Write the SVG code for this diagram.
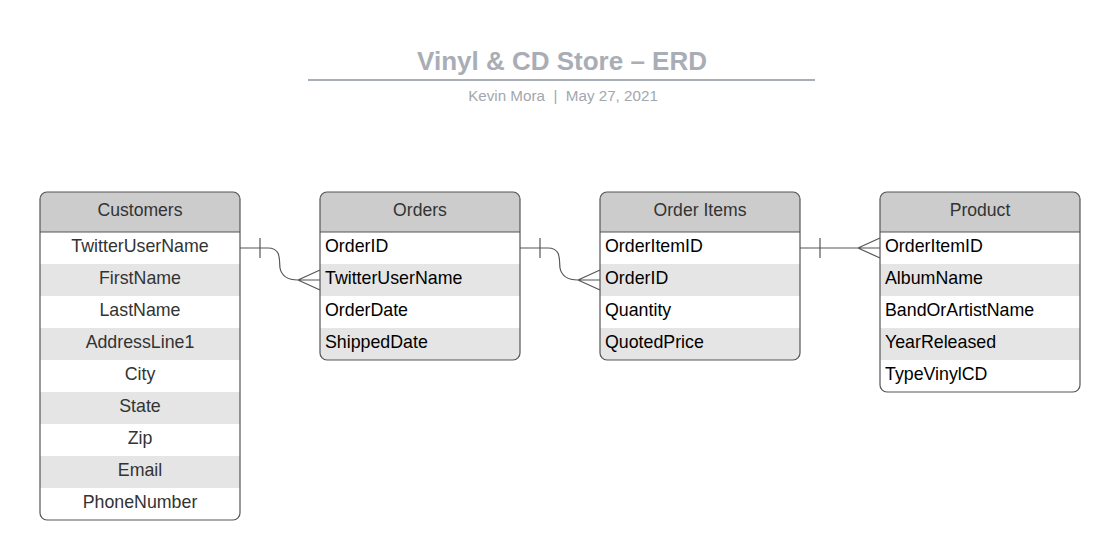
<svg xmlns="http://www.w3.org/2000/svg" width="1120" height="560" viewBox="0 0 1120 560">
<style>
.t{font-family:"Liberation Sans",Arial,sans-serif}
.title{font-size:26px;font-weight:bold;fill:#a9adb5}
.sub{font-size:15.2px;fill:#a3a7ae;white-space:pre}
.hdr{fill:#cccccc}
.alt{fill:#e5e5e5}
.box{fill:none;stroke:#555;stroke-width:1.2}
.sep{stroke:#555;stroke-width:1}
.hl{font-size:17.6px;fill:#333;text-anchor:middle}
.fc{font-size:17.8px;fill:#333;text-anchor:middle}
.fl{font-size:17.8px;fill:#000}
.conn{fill:none;stroke:#555;stroke-width:1.2}
</style>
<rect width="1120" height="560" fill="#fff"/>
<g id="title">
<text class="t title" x="562" y="70" text-anchor="middle">Vinyl &amp; CD Store – ERD</text>
<line x1="308" y1="80" x2="815" y2="80" stroke="#a9aeb8" stroke-width="2"/>
<text class="t sub" x="563" y="101" text-anchor="middle" xml:space="preserve">Kevin Mora  |  May 27, 2021</text>
</g>
<g id="customers">
<clipPath id="c1"><rect x="40" y="192" width="200" height="328" rx="7"/></clipPath>
<g clip-path="url(#c1)">
<rect x="40" y="192" width="200" height="328" fill="#fff"/>
<rect class="hdr" x="40" y="192" width="200" height="40"/>
<rect class="alt" x="40" y="264" width="200" height="32"/>
<rect class="alt" x="40" y="328" width="200" height="32"/>
<rect class="alt" x="40" y="392" width="200" height="32"/>
<rect class="alt" x="40" y="456" width="200" height="32"/>
</g>
<line class="sep" x1="40" y1="232" x2="240" y2="232"/>
<rect class="box" x="40" y="192" width="200" height="328" rx="7"/>
<text class="t hl" x="140" y="216">Customers</text>
<text class="t fc" x="140" y="251.5">TwitterUserName</text>
<text class="t fc" x="140" y="283.5">FirstName</text>
<text class="t fc" x="140" y="315.5">LastName</text>
<text class="t fc" x="140" y="347.5">AddressLine1</text>
<text class="t fc" x="140" y="379.5">City</text>
<text class="t fc" x="140" y="411.5">State</text>
<text class="t fc" x="140" y="443.5">Zip</text>
<text class="t fc" x="140" y="475.5">Email</text>
<text class="t fc" x="140" y="507.5">PhoneNumber</text>
</g>
<g id="orders">
<clipPath id="c2"><rect x="320" y="192" width="200" height="168" rx="7"/></clipPath>
<g clip-path="url(#c2)">
<rect x="320" y="192" width="200" height="168" fill="#fff"/>
<rect class="hdr" x="320" y="192" width="200" height="40"/>
<rect class="alt" x="320" y="264" width="200" height="32"/>
<rect class="alt" x="320" y="328" width="200" height="32"/>
</g>
<line class="sep" x1="320" y1="232" x2="520" y2="232"/>
<rect class="box" x="320" y="192" width="200" height="168" rx="7"/>
<text class="t hl" x="420" y="216">Orders</text>
<text class="t fl" x="325" y="251.5">OrderID</text>
<text class="t fl" x="325" y="283.5">TwitterUserName</text>
<text class="t fl" x="325" y="315.5">OrderDate</text>
<text class="t fl" x="325" y="347.5">ShippedDate</text>
</g>
<g id="order-items">
<clipPath id="c3"><rect x="600" y="192" width="200" height="168" rx="7"/></clipPath>
<g clip-path="url(#c3)">
<rect x="600" y="192" width="200" height="168" fill="#fff"/>
<rect class="hdr" x="600" y="192" width="200" height="40"/>
<rect class="alt" x="600" y="264" width="200" height="32"/>
<rect class="alt" x="600" y="328" width="200" height="32"/>
</g>
<line class="sep" x1="600" y1="232" x2="800" y2="232"/>
<rect class="box" x="600" y="192" width="200" height="168" rx="7"/>
<text class="t hl" x="700" y="216">Order Items</text>
<text class="t fl" x="605" y="251.5">OrderItemID</text>
<text class="t fl" x="605" y="283.5">OrderID</text>
<text class="t fl" x="605" y="315.5">Quantity</text>
<text class="t fl" x="605" y="347.5">QuotedPrice</text>
</g>
<g id="product">
<clipPath id="c4"><rect x="880" y="192" width="200" height="200" rx="7"/></clipPath>
<g clip-path="url(#c4)">
<rect x="880" y="192" width="200" height="200" fill="#fff"/>
<rect class="hdr" x="880" y="192" width="200" height="40"/>
<rect class="alt" x="880" y="264" width="200" height="32"/>
<rect class="alt" x="880" y="328" width="200" height="32"/>
</g>
<line class="sep" x1="880" y1="232" x2="1080" y2="232"/>
<rect class="box" x="880" y="192" width="200" height="200" rx="7"/>
<text class="t hl" x="980" y="216">Product</text>
<text class="t fl" x="885" y="251.5">OrderItemID</text>
<text class="t fl" x="885" y="283.5">AlbumName</text>
<text class="t fl" x="885" y="315.5">BandOrArtistName</text>
<text class="t fl" x="885" y="347.5">YearReleased</text>
<text class="t fl" x="885" y="379.5">TypeVinylCD</text>
</g>
<g id="connectors">
<path class="conn" d="M240,248 H268 C282,248 279,262 280,268 C282,278 290,280 298,280 H320 M260,238 V258 M298,280 L320,270 M298,280 L320,290"/>
<path class="conn" d="M520,248 H548 C562,248 559,262 560,268 C562,278 570,280 578,280 H600 M540,238 V258 M578,280 L600,270 M578,280 L600,290"/>
<path class="conn" d="M800,248 H880 M820,238 V258 M858,248 L880,238 M858,248 L880,258"/>
</g>
</svg>
